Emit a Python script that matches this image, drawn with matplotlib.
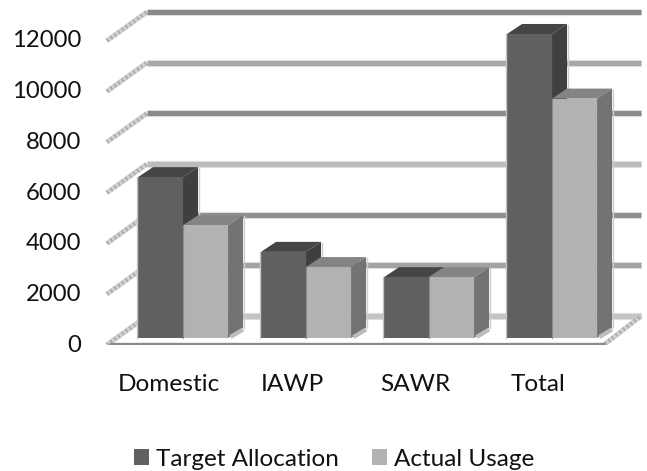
import matplotlib
matplotlib.use('Agg')
import matplotlib.pyplot as plt
from matplotlib.patches import Polygon, Patch
from matplotlib.transforms import ScaledTranslation

plt.rcParams['font.family'] = ['Lato', 'DejaVu Sans']

categories = ['Domestic', 'IAWP', 'SAWR', 'Total']
target = [6350, 3400, 2400, 12000]
actual = [4450, 2800, 2400, 9450]
levels = [0, 2000, 4000, 6000, 8000, 10000, 12000]
level_colors = ['#c4c4c4', '#a2a2a2', '#8e8e8e', '#bcbcbc', '#8a8a8a', '#a8a8a8', '#888888']

# depth of the fake 3d, in data units (1 px = 39.47 in y, 1/123 in x)
bar_w = 0.366
bar_dx, bar_dy = 0.122, 395
back_dy = 870
floor_dy = -237
stub_dy = -265
wall_left = -0.293
stub_left = -0.618
wall_right = 3.724

fig = plt.figure(figsize=(6.47, 4.71), dpi=100)
ax = fig.add_axes([100 / 647, (471 - 345) / 471, 547 / 647, 345 / 471])
ax.set_xlim(-0.675, 3.772)
ax.set_ylim(-276, 13342)
for s in ax.spines.values():
    s.set_visible(False)


def hatched(xs, ys, z=1):
    ax.plot(xs, ys, color='#d0d0d0', lw=3.6, solid_capstyle='butt', zorder=z)
    ax.plot(xs, ys, color='#a6a6a6', lw=2.8, ls=(0, (0.4, 0.8)), zorder=z + 0.1)


# back wall lines and the hatched stubs on the left
for v, c in zip(levels, level_colors):
    y = v + back_dy
    ax.plot([wall_left, wall_right], [y, y], color='#dedede', lw=5.2, solid_capstyle='butt', zorder=1)
    ax.plot([wall_left, wall_right], [y, y], color=c, lw=3.6, solid_capstyle='butt', zorder=1.1)
    hatched([stub_left, wall_left], [v + stub_dy, y])

# floor: front edge and right hand stub
ax.plot([stub_left + 0.02, 3.43], [floor_dy, floor_dy], color='#8a8a8a', lw=2.4, solid_capstyle='butt', zorder=1.2)
hatched([3.43, wall_right], [floor_dy, back_dy])


def draw_bar(x, v, front, top, side, z):
    left, right = x - bar_w / 2, x + bar_w / 2
    ax.bar(x, v, width=bar_w, color=front, zorder=z + 0.2)
    ax.add_patch(Polygon([(left, v), (right, v), (right + bar_dx, v + bar_dy), (left + bar_dx, v + bar_dy)],
                         closed=True, facecolor=top, edgecolor='none', zorder=z))
    ax.add_patch(Polygon([(right, 0), (right + bar_dx, bar_dy), (right + bar_dx, v + bar_dy), (right, v)],
                         closed=True, facecolor=side, edgecolor='none', zorder=z + 0.1))
    # pale rim on the right of the side face
    ax.plot([right + bar_dx + 0.006] * 2, [bar_dy, v + bar_dy - 40], color='#cfcfcf', lw=1, zorder=z)


for i in range(len(categories)):
    draw_bar(i - bar_w / 2, target[i], '#606060', '#454545', '#3f3f3f', 3 + i)
    draw_bar(i + bar_w / 2, actual[i], '#b2b2b2', '#848484', '#737373', 3.5 + i)
    # pale left edge and darker seam between the two fronts
    ax.plot([i - bar_w - 0.006] * 2, [0, target[i]], color='#c4c4c4', lw=1, zorder=8)
    ax.plot([i] * 2, [0, actual[i]], color='#8c8c8c', lw=0.8, zorder=8)
    # bit of floor hatching under the side face
    ax.plot([i + bar_w + 0.02, i + bar_w + bar_dx], [40, bar_dy - 60], color='#bdbdbd', lw=3,
            solid_capstyle='butt', zorder=8)

ax.set_xticks(range(len(categories)))
ax.set_xticklabels(categories, fontsize=17.6, color='#111111')
ax.set_yticks(levels)
ax.set_yticklabels([str(v) for v in levels], fontsize=17.2, color='#111111')
ax.tick_params(axis='x', length=0, pad=21)
ax.tick_params(axis='y', length=0, pad=13.5)

# labels sit a little off the ticks in the original
shift_x = ScaledTranslation(-14 / 100, 0, fig.dpi_scale_trans)
shift_y = ScaledTranslation(0, -5 / 100, fig.dpi_scale_trans)
for lab in ax.get_xticklabels():
    lab.set_transform(lab.get_transform() + shift_x)
for lab in ax.get_yticklabels():
    lab.set_transform(lab.get_transform() + shift_y)

handles = [Patch(facecolor='#606060', label='Target Allocation'),
           Patch(facecolor='#b2b2b2', label='Actual Usage')]
fig.legend(handles=handles, loc='center', bbox_to_anchor=(334 / 647, 1 - 459 / 471), ncol=2, frameon=False,
           fontsize=17.5, handlelength=0.62, handleheight=0.62, handletextpad=0.3, columnspacing=1.35,
           labelcolor='#111111', borderpad=0)

fig.savefig('out.png', dpi=100)
plt.close(fig)
